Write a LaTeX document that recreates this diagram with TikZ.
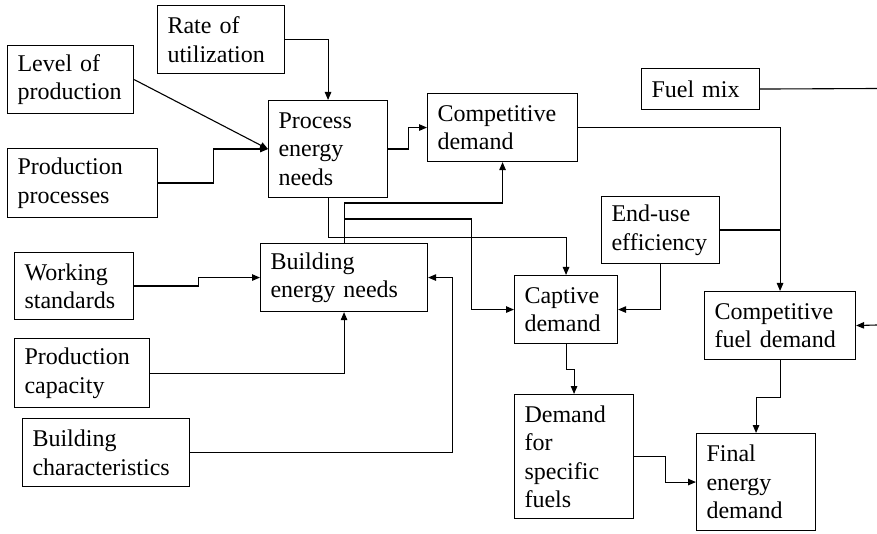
\documentclass[tikz,border=0pt]{standalone}
\usepackage{fontspec}
\setmainfont{Liberation Serif}
\usetikzlibrary{arrows.meta}
\tikzset{
  box/.style={draw, line width=1.1pt, anchor=north west, inner xsep=10pt, inner ysep=2pt,
    align=left, font=\fontsize{24}{28.5}\selectfont},
  arr/.style={line width=1.1pt, -{Triangle[length=8pt,width=6.5pt]}},
  ln/.style={line width=1.1pt}
}
\begin{document}
\begin{tikzpicture}[x=1pt,y=-1pt]
\useasboundingbox (0,0) rectangle (877,534);
\node[box, minimum width=127, minimum height=68, text width=107] (rate) at (157,5) {Rate of\\utilization};
\node[box, minimum width=126, minimum height=68, text width=106] (level) at (7,45) {Level of\\production};
\node[box, minimum width=150, minimum height=69, text width=130] (procs) at (7,148) {Production\\processes};
\node[box, minimum width=119, minimum height=97, text width=99] (pen) at (268,100) {Process\\energy\\needs};
\node[box, minimum width=150, minimum height=68, text width=130] (compd) at (427,93) {Competitive\\demand};
\node[box, minimum width=118, minimum height=41, text width=98] (fuelmix) at (641,68) {Fuel mix};
\node[box, minimum width=118, minimum height=67, text width=98] (enduse) at (601,196) {End-use\\efficiency};
\node[box, minimum width=167, minimum height=68, text width=147] (bldg) at (260,243) {Building\\energy needs};
\node[box, minimum width=119, minimum height=67, text width=99] (work) at (14,252) {Working\\standards};
\node[box, minimum width=135, minimum height=69, text width=115] (pcap) at (14,338) {Production\\capacity};
\node[box, minimum width=167, minimum height=68, text width=147] (bchar) at (22,418) {Building\\characteristics};
\node[box, minimum width=103, minimum height=68, text width=83] (captive) at (514,275) {Captive\\demand};
\node[box, minimum width=151, minimum height=68, text width=131] (cfd) at (704,291) {Competitive\\fuel demand};
\node[box, minimum width=119, minimum height=124, text width=99] (dsf) at (514,394) {Demand\\for\\specific\\fuels};
\node[box, minimum width=119, minimum height=97, text width=99] (final) at (696,433) {Final\\energy\\demand};
\coordinate (fmend) at (877,88.5);
\coordinate (cfdin) at (877,325);

\draw[arr] (rate.east) -| (pen.north);
\draw[arr] (level.east) -- (pen.west);
\draw[arr] (procs.east) -- ++(55,0) |- (pen.west);
\draw[arr] (pen.east) -- ++(20,0) |- (compd.west);
\draw[arr] (pen.south) -- ++(0,39) -| (captive.north);
\draw[arr] (bldg.north) -- ++(0,-40) -| (compd.south);
\draw[arr] (bldg.north) -- ++(0,-24) -- ++(127,0) |- (captive.west);
\draw[arr] (work.east) -- ++(64,0) |- (bldg.west);
\draw[arr] (pcap.east) -| (bldg.south);
\draw[arr] (bchar.east) -- ++(262,0) |- (bldg.east);
\draw[arr] (enduse.south) |- (captive.east);
\draw[arr] (compd.east) -| (cfd.north);
\draw[ln] (enduse.east) -- (enduse.east -| cfd.north);
\draw[ln] (fuelmix.east) -- (fmend);
\draw[arr] (cfdin) -- (cfd.east);
\draw[arr] (captive.south) -- ++(0,25) -| (dsf.north);
\draw[arr] (cfd.south) -- ++(0,37) -| (final.north);
\draw[arr] (dsf.east) -- ++(31,0) |- (final.west);
\end{tikzpicture}
\end{document}
